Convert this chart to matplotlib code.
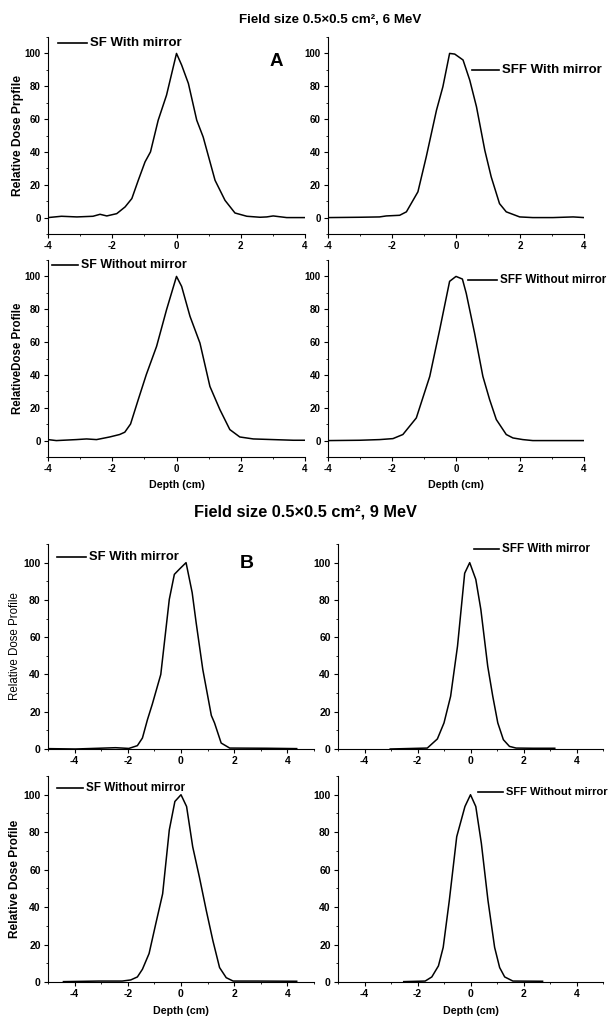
"""
Lateral dose profiles of small electron fields, with and without mirror.
"""
import matplotlib
matplotlib.use("Agg")
from matplotlib import pyplot as plt
from matplotlib.lines import Line2D
from matplotlib.ticker import MultipleLocator

W, H = 611, 1019

# ---- 6 MeV profiles (depth in cm, relative dose in %) ----
sf_mir_6_x = [-4.0, -3.58, -3.1, -2.6, -2.38, -2.17, -1.86, -1.6, -1.39, -1.19, -0.98,
              -0.81, -0.57, -0.31, 0.0, 0.16, 0.37, 0.63, 0.83, 1.2, 1.51, 1.82, 2.19,
              2.6, 2.81, 3.01, 3.43, 4.0]
sf_mir_6_y = [0.0, 0.8, 0.4, 0.8, 2.0, 1.0, 2.4, 6.5, 11.6, 22.7, 33.9,
              40.0, 59.3, 74.6, 100.0, 92.9, 81.7, 59.3, 49.1, 22.7, 10.5, 2.8, 0.8,
              0.2, 0.4, 1.0, 0.0, 0.0]

sff_mir_6_x = [-4.0, -3.0, -2.39, -2.18, -1.76, -1.55, -1.19, -0.93, -0.61, -0.41, -0.2,
               -0.04, 0.22, 0.43, 0.64, 0.9, 1.1, 1.36, 1.57, 1.99, 2.4, 3.03, 3.66, 4.0]
sff_mir_6_y = [0.0, 0.2, 0.4, 1.0, 1.4, 3.5, 15.7, 37.0, 65.4, 79.7, 100.0,
               99.6, 96.0, 83.7, 67.5, 41.0, 24.8, 8.5, 3.5, 0.4, 0.0, 0.0, 0.4, 0.0]

sf_nomir_6_x = [-4.0, -3.74, -3.12, -2.8, -2.49, -2.08, -1.77, -1.61, -1.43, -1.19, -0.94,
                -0.62, -0.31, 0.0, 0.16, 0.42, 0.73, 1.04, 1.35, 1.66, 1.97, 2.39, 3.01,
                3.64, 4.0]
sf_nomir_6_y = [0.6, 0.0, 0.6, 1.0, 0.6, 2.2, 3.7, 5.1, 10.1, 25.0, 40.2,
                57.4, 79.7, 100.0, 93.9, 75.7, 59.4, 33.0, 18.9, 6.7, 2.2, 1.0, 0.6,
                0.2, 0.2]

sff_nomir_6_x = [-4.0, -3.01, -2.39, -1.97, -1.66, -1.24, -0.82, -0.51, -0.2, 0.0, 0.2,
                 0.32, 0.58, 0.84, 1.05, 1.26, 1.57, 1.78, 2.09, 2.4, 4.0]
sff_nomir_6_y = [0.0, 0.2, 0.6, 1.2, 3.7, 13.8, 39.1, 67.5, 97.0, 100.0, 98.4,
                 89.7, 65.5, 39.1, 25.0, 12.8, 3.7, 1.6, 0.6, 0.0, 0.0]

# ---- 9 MeV profiles ----
sf_mir_9_x = [-5.0, -3.97, -3.09, -2.46, -1.96, -1.64, -1.45, -1.26, -1.08, -0.76, -0.44,
              -0.25, -0.06, 0.19, 0.42, 0.57, 0.82, 1.14, 1.26, 1.51, 1.83, 3.22, 4.35]
sf_mir_9_y = [0.2, 0.0, 0.4, 0.7, 0.3, 1.8, 5.9, 15.8, 24.0, 40.0, 80.3,
              93.7, 96.5, 100.0, 83.9, 67.7, 42.6, 18.0, 14.0, 3.2, 0.5, 0.4, 0.2]

sff_mir_9_x = [-3.03, -1.63, -1.25, -1.0, -0.75, -0.49, -0.22, -0.03, 0.2, 0.39, 0.65,
               0.84, 1.03, 1.24, 1.47, 1.72, 2.35, 3.18]
sff_mir_9_y = [0.0, 0.5, 5.4, 14.0, 28.3, 55.2, 94.3, 100.0, 91.0, 74.9, 44.4,
               28.3, 14.0, 5.0, 1.4, 0.5, 0.4, 0.4]

sf_nomir_9_x = [-4.42, -3.09, -2.21, -1.89, -1.64, -1.45, -1.2, -0.95, -0.69, -0.44, -0.23,
                0.0, 0.21, 0.44, 0.69, 0.95, 1.2, 1.45, 1.7, 1.96, 2.84, 4.35]
sf_nomir_9_y = [0.2, 0.5, 0.5, 1.1, 2.7, 6.8, 15.2, 31.0, 47.1, 81.2, 96.4,
                100.0, 93.7, 72.2, 56.1, 38.2, 22.0, 7.7, 2.3, 0.5, 0.5, 0.4]

sff_nomir_9_x = [-2.52, -1.71, -1.46, -1.21, -1.03, -0.8, -0.52, -0.21, 0.0, 0.2, 0.41,
                 0.66, 0.91, 1.1, 1.29, 1.6, 2.72]
sff_nomir_9_y = [0.2, 0.5, 2.7, 8.6, 18.5, 43.5, 77.6, 93.7, 100.0, 93.7, 74.0,
                 43.5, 18.5, 7.7, 2.7, 0.5, 0.4]

FONT = ["Liberation Sans", "DejaVu Sans"]
plt.rcParams.update({
    'font.family': FONT,
    'font.weight': 'bold',
    'axes.unicode_minus': False,
    'axes.linewidth': 0.8,
    'xtick.direction': 'out',
    'ytick.direction': 'out',
    'xtick.major.size': 2.8,
    'ytick.major.size': 2.8,
    'xtick.minor.size': 1.6,
    'ytick.minor.size': 1.6,
    'xtick.major.width': 0.8,
    'ytick.major.width': 0.8,
    'xtick.minor.width': 0.6,
    'ytick.minor.width': 0.6,
})


def px_axes(fig, left, top, right, bottom):
    """ Add axes given in pixel coordinates (origin top-left). """
    return fig.add_axes([left / W, 1 - bottom / H, (right - left) / W, (bottom - top) / H])


def style_axes(ax, xlim, ylim, size):
    ax.set_xlim(*xlim)
    ax.set_ylim(*ylim)
    for side in ('top', 'right'):
        ax.spines[side].set_visible(False)
    ax.xaxis.set_major_locator(MultipleLocator(2))
    ax.xaxis.set_minor_locator(MultipleLocator(1))
    ax.yaxis.set_major_locator(MultipleLocator(20))
    ax.yaxis.set_minor_locator(MultipleLocator(10))
    ax.tick_params(axis='both', which='major', labelsize=size, pad=2.5)


def add_key(fig, x0, x1, y, label, size):
    """ Short line with a label, in pixel coordinates. """
    fig.add_artist(Line2D([x0 / W, x1 / W], [1 - y / H, 1 - y / H], color='black', lw=1.2))
    fig.text((x1 + 3) / W, 1 - y / H, label, fontsize=size, fontweight='bold',
             va='center', ha='left')


fig = plt.figure(figsize=(W / 100, H / 100), dpi=100)

# ---- panel A : 6 MeV ----
panels_6 = [
    ((48, 37, 305, 234), sf_mir_6_x, sf_mir_6_y),
    ((328, 37, 584, 234), sff_mir_6_x, sff_mir_6_y),
    ((48, 260, 305, 457), sf_nomir_6_x, sf_nomir_6_y),
    ((328, 260, 584, 457), sff_nomir_6_x, sff_nomir_6_y),
]
axes_6 = []
for box, x, y in panels_6:
    ax = px_axes(fig, *box)
    ax.plot(x, y, color='black', lw=1.1)
    style_axes(ax, (-4, 4), (-10, 110), 7)
    axes_6.append(ax)

axes_6[0].set_ylabel('Relative Dose Prpfile', fontsize=8.7, fontweight='bold', labelpad=0.5)
axes_6[2].set_ylabel('RelativeDose Profile', fontsize=8.3, fontweight='bold', labelpad=0.5)
axes_6[2].set_xlabel('Depth (cm)', fontsize=7.7, fontweight='bold', labelpad=4)
axes_6[3].set_xlabel('Depth (cm)', fontsize=7.7, fontweight='bold', labelpad=4)

fig.text(330 / W, 1 - 20 / H, 'Field size 0.5×0.5 cm², 6 MeV',
         fontsize=9.6, fontweight='bold', ha='center', va='center')
fig.text(270 / W, 1 - 62 / H, 'A', fontsize=13.5, fontweight='bold', ha='left', va='center')

add_key(fig, 58, 87, 43, 'SF With mirror', 9.5)
add_key(fig, 472, 499, 70, 'SFF With mirror', 9.5)
add_key(fig, 52, 78, 265, 'SF Without mirror', 8.9)
add_key(fig, 468, 497, 280, 'SFF Without mirror', 8.4)

# ---- panel B : 9 MeV ----
panels_9 = [
    ((48, 544, 314, 749), sf_mir_9_x, sf_mir_9_y),
    ((338, 544, 603, 749), sff_mir_9_x, sff_mir_9_y),
    ((48, 776, 314, 982), sf_nomir_9_x, sf_nomir_9_y),
    ((338, 776, 603, 982), sff_nomir_9_x, sff_nomir_9_y),
]
axes_9 = []
for box, x, y in panels_9:
    ax = px_axes(fig, *box)
    ax.plot(x, y, color='black', lw=1.1)
    style_axes(ax, (-5, 5), (0, 110), 7.5)
    axes_9.append(ax)

axes_9[0].set_ylabel('Relative Dose Profile', fontsize=8.3, fontweight='normal', labelpad=2)
axes_9[2].set_ylabel('Relative Dose Profile', fontsize=8.6, fontweight='bold', labelpad=2)
axes_9[2].set_xlabel('Depth (cm)', fontsize=7.7, fontweight='bold', labelpad=5)
axes_9[3].set_xlabel('Depth (cm)', fontsize=7.7, fontweight='bold', labelpad=5)

fig.text(305 / W, 1 - 512 / H, 'Field size 0.5×0.5 cm², 9 MeV',
         fontsize=11.8, fontweight='bold', ha='center', va='center')
fig.text(240 / W, 1 - 563 / H, 'B', fontsize=14, fontweight='bold', ha='left', va='center')

add_key(fig, 57, 86, 557, 'SF With mirror', 9.4)
add_key(fig, 474, 499, 549, 'SFF With mirror', 8.4)
add_key(fig, 57, 83, 788, 'SF Without mirror', 8.4)
add_key(fig, 478, 503, 792, 'SFF Without mirror', 8)

fig.savefig('out.png', dpi=100)
